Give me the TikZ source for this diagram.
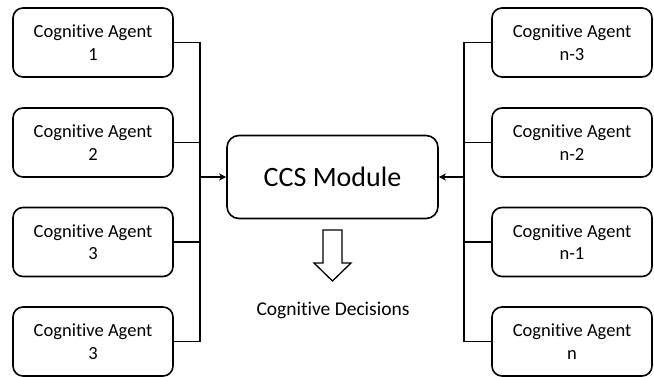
\documentclass[tikz,border=0pt]{standalone}
\usepackage{fontspec}
\setmainfont{Carlito}[Ligatures=NoCommon]
\usetikzlibrary{arrows.meta}
\begin{document}
\begin{tikzpicture}[x=1pt,y=-1pt,
  agent/.style={draw,line width=1.6pt,rounded corners=10pt,minimum width=160pt,minimum height=69pt,align=center,font=\fontsize{18.5}{22.5}\selectfont,inner sep=0pt},
  ccs/.style={draw,line width=1.6pt,rounded corners=12pt,minimum width=211pt,minimum height=83pt,font=\fontsize{28}{32}\selectfont,inner sep=0pt},
  wire/.style={line width=1.6pt},
  arr/.style={wire,-{Stealth[length=7pt,width=7pt,inset=2pt]}}]
\useasboundingbox (0,0) rectangle (654,377);
\node[agent] (a1) at (93,42.5) {Cognitive Agent\\1};
\node[agent] (a2) at (93,142.5) {Cognitive Agent\\2};
\node[agent] (a3) at (93,242) {Cognitive Agent\\3};
\node[agent] (a4) at (93,341.5) {Cognitive Agent\\3};
\node[agent] (b1) at (572,42.5) {Cognitive Agent\\n-3};
\node[agent] (b2) at (572,142.5) {Cognitive Agent\\n-2};
\node[agent] (b3) at (572,242) {Cognitive Agent\\n-1};
\node[agent] (b4) at (572,341.5) {Cognitive Agent\\n};
\node[ccs] (ccs) at (332.5,177) {CCS Module};
\coordinate (busL) at (200,177);
\coordinate (busR) at (464,177);
\foreach \n in {a1,a2,a3,a4} \draw[wire] (\n.east) -| (busL);
\foreach \n in {b1,b2,b3,b4} \draw[wire] (\n.west) -| (busR);
\draw[arr] (busL) -- (ccs.west);
\draw[arr] (busR) -- (ccs.east);
\draw[line width=1.3pt,line join=miter] (323,230) -- (342,230) -- (342,263) -- (351,263) -- (332.5,281) -- (314,263) -- (323,263) -- cycle;
\node[font=\fontsize{19.5}{22}\selectfont] (dec) at (333,310) {Cognitive Decisions};
\end{tikzpicture}
\end{document}
